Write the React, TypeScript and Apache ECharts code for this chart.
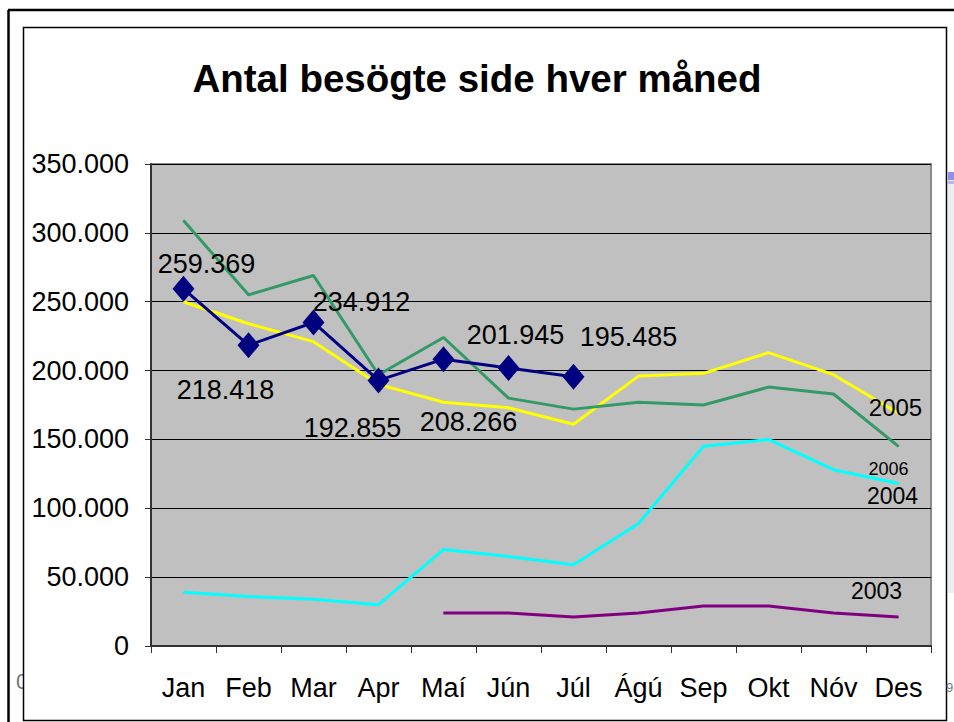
import React, { useEffect, useRef } from "react";
import * as echarts from "echarts";

const categories = ["Jan", "Feb", "Mar", "Apr", "Maí", "Jún", "Júl", "Ágú", "Sep", "Okt", "Nóv", "Des"];
const labeled2006 = [259369, 218418, 234912, 192855, 208266, 201945, 195485];
const greenSeries = [309000, 255000, 269000, 197000, 224000, 180000, 172000, 177000, 175000, 188000, 183000, 145000];
const yellowSeries = [250000, 234000, 221000, 190000, 177000, 173000, 161000, 196000, 198000, 213000, 197000, 169000];
const cyanSeries = [39000, 36000, 34000, 30000, 70000, 65000, 59000, 89000, 145000, 150000, 128000, 118000];
const purpleSeries = [null, null, null, null, 24000, 24000, 21000, 24000, 29000, 29000, 24000, 21000];
const yTicks = [0, 50000, 100000, 150000, 200000, 250000, 300000, 350000];
const endLabels = { yellow: "2005", green: "2006", cyan: "2004", purple: "2003" };

const navyOffsets: [number, number][] = [
  [23, -25], [-23, 45], [48, -20], [-26, 48], [25, 63], [7, -33], [55, -40],
];

const FONT = "'Liberation Sans', Arial, sans-serif";

function fmt(v: number): string {
  if (v === 0) return "0";
  return String(v).replace(/\B(?=(\d{3})+(?!\d))/g, ".");
}

function withEndLabel(arr: (number | null)[], text: string, offset: [number, number], size: number) {
  return arr.map((v, i) =>
    i === arr.length - 1
      ? {
          value: v,
          label: {
            show: true,
            formatter: text,
            position: "inside",
            offset,
            fontSize: size,
            color: "#000",
            fontFamily: FONT,
          },
        }
      : v
  );
}

export default function App() {
  const ref = useRef<HTMLDivElement>(null);
  useEffect(() => {
    if (!ref.current) return;
    const chart = echarts.init(ref.current, undefined, { renderer: "svg" });
    const thin = (color: string) => ({
      type: "line",
      symbol: "circle",
      symbolSize: 1,
      showSymbol: true,
      lineStyle: { color, width: 3 },
      itemStyle: { color },
      label: { show: false },
      emphasis: { disabled: true },
    });
    chart.setOption({
      animation: false,
      backgroundColor: "#fff",
      title: {
        text: "Antal besögte side hver måned",
        left: "center",
        top: 54,
        textStyle: { fontSize: 38.5, fontWeight: "bold", color: "#000", fontFamily: FONT },
      },
      grid: {
        left: 151,
        top: 164,
        width: 780,
        height: 482,
        show: true,
        backgroundColor: "#C0C0C0",
        borderColor: "#8a8a8a",
        borderWidth: 2,
      },
      xAxis: {
        type: "category",
        data: categories,
        boundaryGap: true,
        axisLine: { show: true, lineStyle: { color: "#333", width: 2 } },
        axisTick: { show: true, length: 7, alignWithLabel: false, lineStyle: { color: "#333", width: 1 } },
        axisLabel: { fontSize: 27, color: "#000", margin: 28, fontFamily: FONT, interval: 0 },
      },
      yAxis: {
        type: "value",
        min: yTicks[0],
        max: yTicks[yTicks.length - 1],
        interval: 50000,
        axisLine: { show: true, lineStyle: { color: "#333", width: 2 } },
        axisTick: { show: true, length: 6, lineStyle: { color: "#333", width: 1 } },
        splitLine: { show: true, lineStyle: { color: "#000", width: 1 } },
        axisLabel: { fontSize: 27, color: "#000", margin: 22, fontFamily: FONT, formatter: (v: number) => fmt(v) },
      },
      series: [
        { ...thin("#00FFFF"), name: "2004", data: withEndLabel(cyanSeries, endLabels.cyan, [-6, 13], 23) },
        { ...thin("#800080"), name: "2003", data: withEndLabel(purpleSeries, endLabels.purple, [-22, -26], 23) },
        { ...thin("#FFFF00"), name: "2005", data: withEndLabel(yellowSeries, endLabels.yellow, [-3, -6], 24) },
        { ...thin("#339966"), name: "2006b", data: withEndLabel(greenSeries, endLabels.green, [-10, 23], 18) },
        {
          type: "line",
          name: "2006",
          symbol: "diamond",
          symbolSize: [22, 26],
          showSymbol: true,
          lineStyle: { color: "#000080", width: 3 },
          itemStyle: { color: "#000080" },
          emphasis: { disabled: true },
          label: {
            show: true,
            position: "inside",
            fontSize: 27,
            color: "#000",
            fontFamily: FONT,
            formatter: (p: any) => fmt(p.value),
          },
          data: labeled2006.map((v, i) => ({ value: v, label: { offset: navyOffsets[i] } })),
        },
      ],
      graphic: [
        { type: "line", shape: { x1: 8, y1: 10, x2: 954, y2: 10 }, style: { stroke: "#000", lineWidth: 2.5 } },
        { type: "line", shape: { x1: 8.5, y1: 10, x2: 8.5, y2: 722 }, style: { stroke: "#000", lineWidth: 2.5 } },
        { type: "text", x: 16, y: 670, style: { text: "0", fontSize: 22, fill: "#777", fontFamily: FONT } },
        { type: "rect", shape: { x: 24, y: 665, width: 20, height: 35 }, style: { fill: "#fff" } },
        { type: "rect", shape: { x: 23.5, y: 27.5, width: 923, height: 693 }, style: { fill: "none", stroke: "#000", lineWidth: 1.5 } },
        { type: "rect", shape: { x: 948, y: 172, width: 6, height: 421 }, style: { fill: "#eceef3" } },
        { type: "rect", shape: { x: 948, y: 172, width: 6, height: 8 }, style: { fill: "#8f8ff0" } },
        { type: "rect", shape: { x: 948, y: 181, width: 6, height: 3 }, style: { fill: "#b8b8f4" } },
        { type: "text", x: 946, y: 681, style: { text: "9", fontSize: 13, fill: "#777", fontFamily: FONT } },
      ],
    });
    return () => chart.dispose();
  }, []);
  return <div ref={ref} style={{ position: "absolute", left: 0, top: 0, width: 954, height: 722 }} />;
}
